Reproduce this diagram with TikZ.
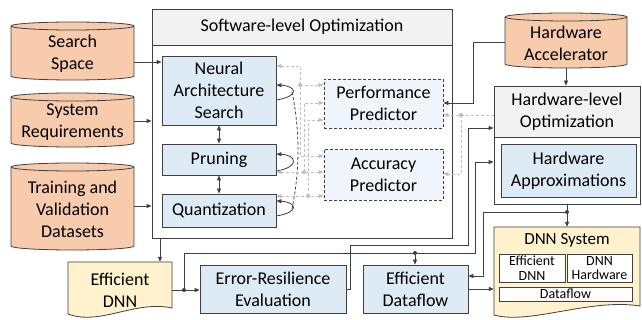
\documentclass[tikz,border=0pt]{standalone}
\usepackage{fontspec}
\setmainfont{Carlito}
\usetikzlibrary{arrows.meta,calc}
\definecolor{lc}{HTML}{404040}
\definecolor{cylf}{HTML}{F8CBAD}
\definecolor{bluef}{HTML}{DDEBF7}
\definecolor{predf}{HTML}{EFF5FB}
\definecolor{hdrf}{HTML}{F2F2F2}
\definecolor{paperf}{HTML}{FFF2CC}
\definecolor{gl}{HTML}{BFBFBF}
\newcommand\drawcyl[4]{%
  \pgfmathsetmacro\cylrx{(#2-#1)/2}%
  \filldraw[cylline] (#1,#3+4) -- (#1,#4-4) arc[start angle=180,end angle=360,x radius=\cylrx pt,y radius=4pt] -- (#2,#3+4) arc[start angle=0,end angle=180,x radius=\cylrx pt,y radius=4pt] -- cycle;
  \draw[cylline,fill=none] (#1,#3+4) arc[start angle=180,end angle=360,x radius=\cylrx pt,y radius=4pt];
}
\begin{document}
\begin{tikzpicture}[x=1pt,y=-1pt,
  every node/.style={font=\fontsize{18}{22}\selectfont},
  cylline/.style={draw=lc,line width=0.8pt,fill=cylf},
  box/.style={draw=lc,line width=0.8pt,inner sep=0pt,align=center},
  bbox/.style={box,fill=bluef},
  pbox/.style={box,fill=predf,dash pattern=on 3pt off 2pt},
  txt/.style={inner sep=0pt,align=center},
  small/.style={font=\fontsize{14}{14.5}\selectfont},
  arr/.style={draw=lc,line width=0.8pt,-{Triangle[length=5pt,width=4pt]}},
  darr/.style={draw=lc,line width=0.8pt,{Triangle[length=5pt,width=4pt]}-{Triangle[length=5pt,width=4pt]}},
  lin/.style={draw=lc,line width=0.8pt},
  garr/.style={draw=gl,line width=0.8pt,dash pattern=on 3pt off 2pt,-{Triangle[length=5pt,width=4pt]}},
  gdarr/.style={draw=gl,line width=0.8pt,dash pattern=on 3pt off 2pt,{Triangle[length=5pt,width=4pt]}-{Triangle[length=5pt,width=4pt]}},
  dotb/.style={circle,fill=lc,inner sep=0pt,minimum size=4pt},
  dotg/.style={circle,fill=gl,inner sep=0pt,minimum size=4pt}]
\useasboundingbox (0,0) rectangle (642,320);
\fill[white] (0,0) rectangle (642,320);

% cylinders
\drawcyl{11}{134}{22}{80}
\drawcyl{11}{134}{93}{147}
\drawcyl{11}{134}{163}{250}
\drawcyl{505}{627}{13}{68}
\node[txt,minimum width=123,minimum height=53] (ss) at (72.5,53.5) {Search\\Space};
\node[txt,minimum width=123,minimum height=49] (sr) at (72.5,122.5) {System\\Requirements};
\node[txt,minimum width=123,minimum height=82] (tv) at (72.5,209) {Training and\\Validation\\Datasets};
\node[txt,minimum width=122,minimum height=50] (ha) at (566,43) {Hardware\\Accelerator};

% software-level box
\node[box,fill=white,minimum width=300,minimum height=229] (sw) at (302,123.5) {};
\node[box,fill=hdrf,minimum width=300,minimum height=36] (swh) at (302,27) {Software-level Optimization};
\node[bbox,minimum width=114,minimum height=69] (nas) at (219,90.5) {Neural\\Architecture\\Search};
\node[bbox,minimum width=114,minimum height=31] (pr) at (219,159.5) {Pruning};
\node[bbox,minimum width=114,minimum height=33] (qu) at (219,210.5) {Quantization};
\node[pbox,minimum width=119,minimum height=49] (pp) at (383.5,103.5) {Performance\\Predictor};
\node[pbox,minimum width=119,minimum height=51] (ap) at (383.5,174.5) {Accuracy\\Predictor};

% hardware-level box
\node[box,fill=white,minimum width=146,minimum height=118] (hw) at (567,145) {};
\node[box,fill=hdrf,minimum width=146,minimum height=51] (hwh) at (567,111.5) {Hardware-level\\Optimization};
\node[bbox,minimum width=135,minimum height=53] (hapx) at (568.5,170.5) {Hardware\\Approximations};

% bottom row
\node[bbox,minimum width=146,minimum height=48] (ere) at (273,289) {Error-Resilience\\Evaluation};
\node[bbox,minimum width=105,minimum height=48] (edf) at (415.5,289) {Efficient\\Dataflow};

% Efficient DNN paper
\filldraw[draw=lc,line width=0.8pt,fill=paperf] (68,262) -- (172,262) -- (172,308) .. controls (135,300) and (100,326) .. (68,314) -- cycle;
\node[txt,minimum width=104,minimum height=56] (edn) at (120,290) {Efficient\\DNN};

% DNN System paper
\filldraw[draw=lc,line width=0.8pt,fill=paperf] (494,227) -- (640,227) -- (640,306) .. controls (590,298) and (530,325) .. (494,315) -- cycle;
\node[txt,minimum width=146,minimum height=90] (dns) at (567,272) {};
\node[txt,font=\fontsize{17}{19}\selectfont] (dnst) at (567,240) {DNN System};
\node[box,fill=white,small,minimum width=66,minimum height=28] (ein) at (532,268) {Efficient\\DNN};
\node[box,fill=white,small,minimum width=65,minimum height=28] (dhw) at (599.5,268) {DNN\\Hardware};
\node[box,fill=white,small,minimum width=133,minimum height=14] (dfl) at (565.5,294) {Dataflow};

% helper coordinates
\coordinate (h62) at (0,62);
\coordinate (h121) at (0,121);
\coordinate (h206) at (0,206);
\coordinate (h289) at (0,289);
\coordinate (vx160) at (160,0);
\coordinate (gA) at (300,66);
\coordinate (gAd) at (300,85);
\coordinate (gAb) at (300,156);
\coordinate (gB) at (304,172);
\coordinate (gBt) at (304,103);
\coordinate (gC) at (308,196);
\coordinate (gCt) at (308,120);
\coordinate (gD) at (461,115);
\coordinate (gDb) at (461,174);
\coordinate (bA) at (473,42);
\coordinate (bB) at (473,103);
\coordinate (bC) at (567,212);
\coordinate (bD) at (483,212);
\coordinate (bE) at (483,276);
\coordinate (bF) at (184,290);
\coordinate (bG) at (184,253);
\coordinate (bH) at (475,253);
\coordinate (bI) at (475,162);
\coordinate (bJ) at (415,253);
\coordinate (bK) at (350,289);
\coordinate (bL) at (350,245);
\coordinate (bM) at (468,245);
\coordinate (bN) at (468,128);
\coordinate (lpa) at (292,92);
\coordinate (lpc) at (292,209);

% inputs
\draw[arr] (ss.east |- h62) -- (nas.west |- h62);
\draw[arr] (sr.east |- h121) -- (sw.west |- h121);
\draw[arr] (tv.east |- h206) -- (sw.west |- h206);

% between optimization boxes
\draw[darr] (nas.south) -- (pr.north);
\draw[darr] (pr.south) -- (qu.north);

% self loops
\draw[arr] ([yshift=-9.5pt]nas.east) .. controls +(24,-4) and +(20,1) .. ([yshift=5.5pt]nas.east);
\draw[arr] ([yshift=-11.5pt]pr.east) .. controls +(24,-4) and +(20,1) .. ([yshift=5.5pt]pr.east);
\draw[arr] ([yshift=-5.5pt]qu.east) .. controls +(24,-4) and +(20,1) .. ([yshift=9.5pt]qu.east);
\draw[lin,dash pattern=on 3pt off 2pt] (lpa) .. controls (300,130) and (300,170) .. (lpc);

% gray dashed feedback
\draw[gdarr] (nas.east |- gA) -- (gA) -- (gAb) -- (ap.west |- gAb);
\draw[garr] (gAd) -- (pp.west |- gAd);
\draw[gdarr] (pr.east |- gB) -- (ap.west |- gB);
\draw[garr] (gB) -- (gBt) -- (pp.west |- gBt);
\draw[gdarr] (qu.east |- gC) -- (ap.west |- gC);
\draw[garr] (gC) -- (gCt) -- (pp.west |- gCt);
\draw[garr] (hw.west |- gD) -- (pp.east |- gD);
\draw[garr] (gD) -- (gDb) -- (ap.east |- gDb);
\node[dotg] at (gAd) {};
\node[dotg] at (gB) {};
\node[dotg] at (gC) {};
\node[dotg] at (gD) {};

% hardware connectors
\draw[arr] (ha.south) -- (hw.north -| ha.south);
\draw[arr] (ha.west |- bA) -- (bA) -- (bB) -- (pp.east |- bB);
\draw[arr] (hw.south -| bC) -- (dns.north -| bC);
\draw[arr] (bC) -- (bD) -- (bE) -- (edf.east |- bE);
\node[dotb] at (bC) {};
\draw[arr] (edf.east |- h289) -- (dns.west |- h289);

% software to efficient DNN and evaluation
\draw[arr] (sw.south -| vx160) -- (edn.north -| vx160);
\draw[arr] (edn.east |- bF) -- (ere.west |- bF);
\draw[arr] (bF) -- (bG) -- (bH) -- (bI) -- (hw.west |- bI);
\draw[arr] (bJ) -- (edf.north -| bJ);
\node[dotb] at (bF) {};
\node[dotb] at (bJ) {};
\draw[arr] (ere.east) -- (bK) -- (bL) -- (bM) -- (bN) -- (hw.west |- bN);
\end{tikzpicture}
\end{document}
